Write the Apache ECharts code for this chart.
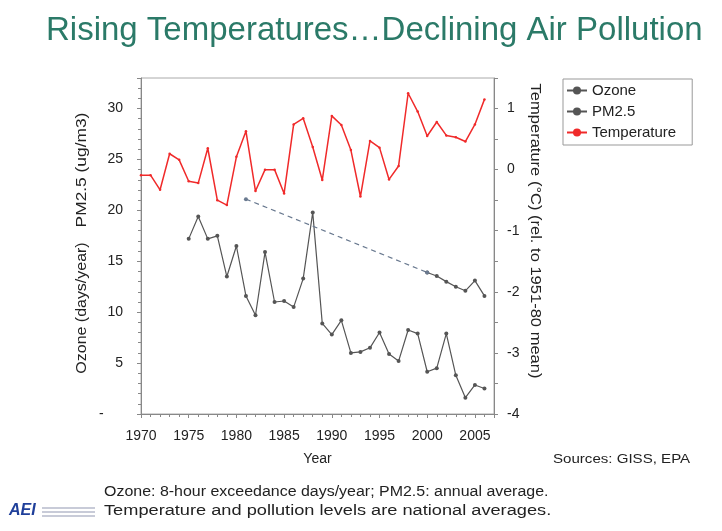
<!DOCTYPE html>
<html><head><meta charset="utf-8">
<script src="https://cdn.jsdelivr.net/npm/echarts@6/dist/echarts.min.js"></script>
<style>html,body{margin:0;padding:0;background:#fff}#c{width:722px;height:531px}</style>
</head><body><div id="c"></div>
<script>
const tempYears = [1970,1971,1972,1973,1974,1975,1976,1977,1978,1979,1980,1981,1982,1983,1984,1985,1986,1987,1988,1989,1990,1991,1992,1993,1994,1995,1996,1997,1998,1999,2000,2001,2002,2003,2004,2005,2006];
const temperature = [-0.09,-0.09,-0.33,0.26,0.16,-0.19,-0.22,0.35,-0.50,-0.58,0.21,0.63,-0.35,0.00,0.00,-0.39,0.74,0.84,0.37,-0.17,0.88,0.73,0.32,-0.44,0.47,0.36,-0.16,0.06,1.25,0.95,0.55,0.78,0.56,0.53,0.46,0.74,1.15];
const ozoneYears = [1975,1976,1977,1978,1979,1980,1981,1982,1983,1984,1985,1986,1987,1988,1989,1990,1991,1992,1993,1994,1995,1996,1997,1998,1999,2000,2001,2002,2003,2004,2005,2006];
const ozone = [17.2,19.4,17.2,17.5,13.5,16.5,11.6,9.7,15.9,11.0,11.1,10.5,13.3,19.8,8.9,7.8,9.2,6.0,6.1,6.5,8.0,5.9,5.2,8.25,7.9,4.15,4.5,7.9,3.8,1.6,2.85,2.5];
const pmGapYears = [1981,2000];
const pmGap = [21.1,13.9];
const pmYears = [2000,2001,2002,2003,2004,2005,2006];
const pm25 = [13.9,13.55,13.0,12.5,12.1,13.1,11.6];
const xTickLabels = [1970,1975,1980,1985,1990,1995,2000,2005];

const pairs = (xs, ys) => xs.map((x, i) => [x, ys[i]]);
const chart = echarts.init(document.getElementById('c'));
const FONT = 'Liberation Sans, Arial, sans-serif';
const gray = '#555';
const txt = '#222';
chart.setOption({
  animation: false,
  textStyle: {fontFamily: FONT},
  title: {
    text: 'Rising Temperatures…Declining Air Pollution',
    left: 41, top: 9,
    textStyle: {color: '#2b7a68', fontSize: 33, fontWeight: 'normal', fontFamily: FONT}
  },
  legend: {
    orient: 'vertical', left: 563, top: 79,
    data: ['Ozone', 'PM2.5', 'Temperature'],
    itemWidth: 20, itemHeight: 10, itemGap: 6,
    padding: [4, 16, 5, 3],
    borderColor: '#999', borderWidth: 1, backgroundColor: '#fff',
    textStyle: {fontSize: 15, color: txt}
  },
  grid: {left: 141, right: 228, top: 78, bottom: 117, show: true, borderColor: '#aaa', borderWidth: 1},
  xAxis: {
    type: 'value', min: 1970, max: 2007, interval: 5,
    name: 'Year', nameLocation: 'middle', nameGap: 38,
    nameTextStyle: {fontSize: 14, color: txt},
    axisLine: {lineStyle: {color: '#888'}},
    axisTick: {show: true, length: 4, lineStyle: {color: '#888'}},
    minorTick: {show: true, splitNumber: 5, length: 3, lineStyle: {color: '#888'}},
    splitLine: {show: false},
    axisLabel: {
      margin: 15, fontSize: 14, color: txt, showMaxLabel: false,
      formatter: v => xTickLabels.includes(v) ? String(v) : ''
    }
  },
  yAxis: [{
    type: 'value', min: 0, max: 33, interval: 5, position: 'left',
    axisLine: {show: true, lineStyle: {color: '#888'}},
    axisTick: {show: true, length: 4, lineStyle: {color: '#888'}},
    minorTick: {show: true, splitNumber: 5, length: 3, lineStyle: {color: '#888'}},
    splitLine: {show: false},
    axisLabel: {margin: 18, fontSize: 14, color: txt, showMaxLabel: false,
      formatter: v => v === 0 ? '-     ' : String(v)}
  }, {
    type: 'value', min: -4, max: 1.5, interval: 1, position: 'right',
    axisLine: {show: true, lineStyle: {color: '#888'}},
    axisTick: {show: true, length: 4, lineStyle: {color: '#888'}},
    minorTick: {show: true, splitNumber: 2, length: 4, lineStyle: {color: '#888'}},
    splitLine: {show: false},
    axisLabel: {margin: 13, fontSize: 14, color: txt, showMaxLabel: false}
  }],
  series: [{
    name: 'Ozone', type: 'line', yAxisIndex: 0, data: pairs(ozoneYears, ozone),
    symbol: 'circle', symbolSize: 4, itemStyle: {color: gray},
    lineStyle: {color: gray, width: 1.2}
  }, {
    name: 'PM2.5', type: 'line', yAxisIndex: 0, data: pairs(pmYears, pm25),
    symbol: 'circle', symbolSize: 4, itemStyle: {color: gray},
    lineStyle: {color: gray, width: 1.2}
  }, {
    name: 'PM2.5', type: 'line', yAxisIndex: 0, data: pairs(pmGapYears, pmGap),
    symbol: 'circle', symbolSize: 4, itemStyle: {color: '#6a7a90'},
    lineStyle: {color: '#6a7a90', width: 1.2, type: [5, 4]}
  }, {
    name: 'Temperature', type: 'line', yAxisIndex: 1, data: pairs(tempYears, temperature),
    symbol: 'circle', symbolSize: 2.5, itemStyle: {color: '#f02a2a'},
    lineStyle: {color: '#f02a2a', width: 1.5}
  }],
  graphic: [
    {type: 'text', x: 82, y: 308, rotation: Math.PI / 2, scaleX: 1.14,
      style: {text: 'Ozone (days/year)', fontSize: 14, fill: txt, fontFamily: FONT,
        textAlign: 'center', textVerticalAlign: 'middle'}},
    {type: 'text', x: 82, y: 170, rotation: Math.PI / 2, scaleX: 1.24,
      style: {text: 'PM2.5 (ug/m3)', fontSize: 14, fill: txt, fontFamily: FONT,
        textAlign: 'center', textVerticalAlign: 'middle'}},
    {type: 'text', x: 535, y: 231, rotation: -Math.PI / 2, scaleX: 1.18,
      style: {text: 'Temperature (°C) (rel. to 1951-80 mean)', fontSize: 14, fill: txt, fontFamily: FONT,
        textAlign: 'center', textVerticalAlign: 'middle'}},
    {type: 'text', x: 553, y: 453, scaleX: 1.16, style: {text: 'Sources: GISS, EPA', fontSize: 13, fill: txt, fontFamily: FONT, textVerticalAlign: 'top'}},
    {type: 'text', x: 104, y: 485, scaleX: 1.14, style: {text: 'Ozone: 8-hour exceedance days/year; PM2.5: annual average.', fontSize: 14, fill: txt, fontFamily: FONT, textVerticalAlign: 'top'}},
    {type: 'text', x: 104, y: 504, scaleX: 1.30, style: {text: 'Temperature and pollution levels are national averages.', fontSize: 14, fill: txt, fontFamily: FONT, textVerticalAlign: 'top'}},
    {type: 'text', x: 9, y: 503, style: {text: 'AEI', fontSize: 16, fontWeight: 'bold', fontStyle: 'italic', fill: '#1f3f9a', fontFamily: FONT, textVerticalAlign: 'top'}},
    {type: 'rect', shape: {x: 42, y: 507, width: 53, height: 2}, style: {fill: '#c8cbd8'}},
    {type: 'rect', shape: {x: 42, y: 511, width: 53, height: 2}, style: {fill: '#c8cbd8'}},
    {type: 'rect', shape: {x: 42, y: 515, width: 53, height: 2}, style: {fill: '#c8cbd8'}}
  ]
});
</script></body></html>
